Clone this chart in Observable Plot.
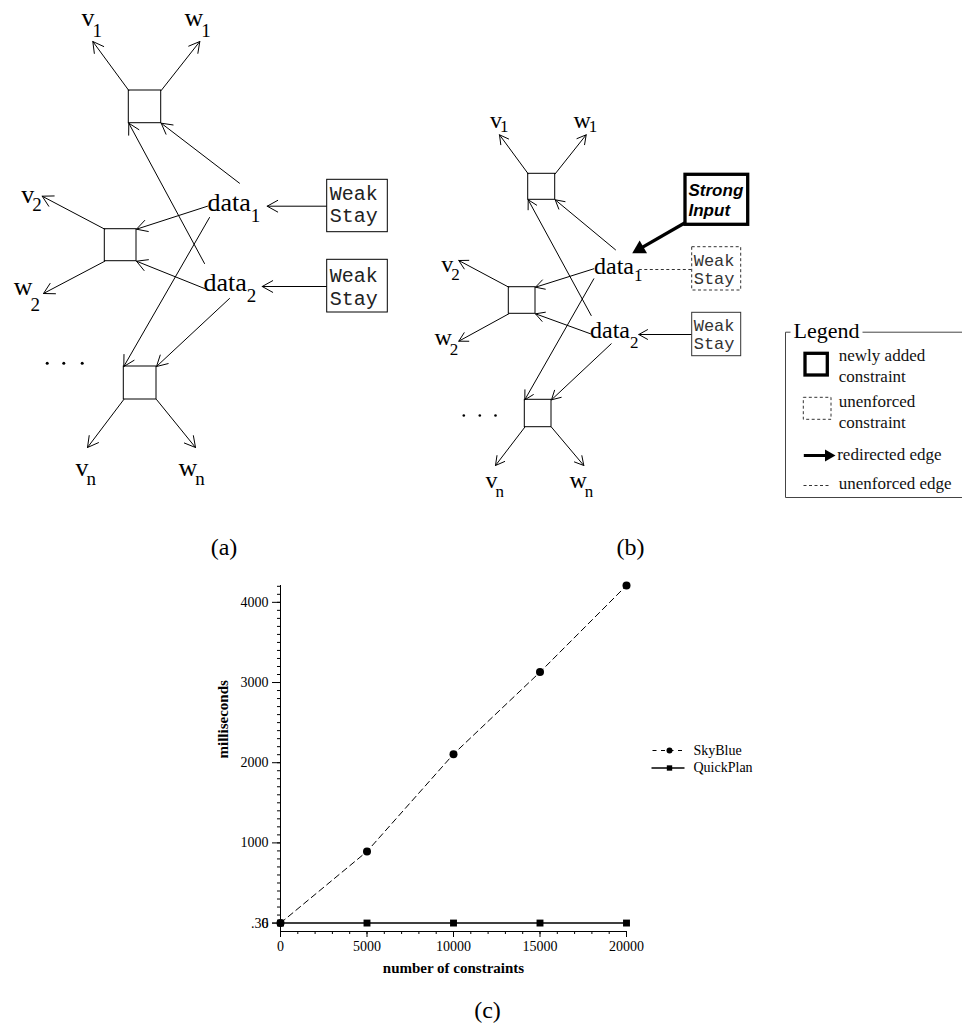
<!DOCTYPE html>
<html><head><meta charset="utf-8">
<script src="https://cdn.jsdelivr.net/npm/d3@7"></script>
<script src="https://cdn.jsdelivr.net/npm/@observablehq/plot@0.6"></script>
<style>
html,body{margin:0;padding:0;background:#fff;}
#page{position:relative;width:962px;height:1030px;overflow:hidden;background:#fff;}
#page > svg{position:absolute;left:0;}
</style></head><body><div id="page"></div>
<script>
// ================= chart (c) data =================
const constraints = [0, 5000, 10000, 15000, 20000];
const skyBlue = [0.36, 893, 2107, 3130, 4210];
const quickPlan = [0.36, 0.4, 0.4, 0.4, 0.4];
const seriesNames = ["SkyBlue", "QuickPlan"];
const yTickValues = [0, 0.36, 1000, 2000, 3000, 4000];
const xTickValues = [0, 5000, 10000, 15000, 20000];
const yAxisTitle = "milliseconds";
const xAxisTitle = "number of constraints";
const panelLabels = ["(a)", "(b)", "(c)"];

// ================= diagram (a) / (b) data (drawing coordinates) =================
const nodeBoxesA = [[128.3, 90, 160.7, 122.7], [104.3, 228.7, 136, 260.7], [123.3, 366, 156, 399]];
const nodeBoxesB = [[527.7, 173.3, 554.7, 199.3], [508.3, 286.7, 535, 313.3], [524.3, 399.3, 551, 426.7]];
const edgesA = [
  [128.3, 90, 92.3, 41], [160.7, 90, 199.3, 41], [239, 182.7, 160.7, 122.7], [204, 263, 128.3, 122.7],
  [207, 205.7, 136, 228.7], [209, 217, 123.3, 366], [104.3, 228.7, 41.7, 195.7], [104.3, 260.7, 43, 293],
  [204, 288, 136, 260.7], [229, 298, 156, 366], [123.3, 399, 87, 447], [156, 399, 195, 447],
  [326.7, 205.7, 266.7, 205.7], [326.7, 286, 261.7, 286]
];
const edgesB = [
  [527.7, 173.3, 499, 134.3], [554.7, 173.3, 585.7, 134.3], [615, 249.3, 554.7, 199.3], [590.7, 315, 527.7, 199.3],
  [593.3, 268.3, 535, 286.7], [593.3, 278.3, 524.3, 399.3], [508.3, 286.7, 458.3, 260], [508.3, 313.3, 458.3, 340.7],
  [590, 333.3, 535, 313.3], [610.7, 343.3, 551, 399.3], [524.3, 426.7, 495, 465], [551, 426.7, 583.3, 465],
  [691.7, 334, 638.3, 334]
];
const unenforcedEdgesB = [[638.3, 269, 691.7, 269]];
// variable labels: name, subscript, x, baseline, subscript baseline
const labelsA = [["v", "1", 81, 25, 36.7], ["w", "1", 184, 25, 36.7], ["v", "2", 20.7, 202, 210.7], ["w", "2", 13.3, 294, 310],
  ["data", "1", 207, 210, 221.7], ["data", "2", 203, 290, 301.7], ["v", "n", 75, 475, 484], ["w", "n", 178, 475, 484]];
const labelsB = [["v", "1", 489.5, 127, 131.5], ["w", "1", 573, 127, 131.5], ["v", "2", 440.7, 271.7, 279.3], ["w", "2", 434, 344, 354],
  ["data", "1", 593.5, 273.3, 280.7], ["data", "2", 589.5, 337.3, 347.7], ["v", "n", 485, 487.3, 496.7], ["w", "n", 569, 487.3, 496.7]];
const ellipsisA = [[46.7, 362.7], [63.3, 362.7], [81.7, 362.7]];
const ellipsisB = [[463.3, 415], [479.3, 415], [495, 415]];
// weak stay constraints: box, first/second baseline, dashed?
const stayBoxesA = [[326.7, 179.3, 387.3, 231.7, 199, 221.7], [326.7, 259.3, 387.3, 312, 281.7, 304]];
const stayBoxesB = [[691.7, 246.7, 740.7, 290, 265, 283, true], [691.7, 312.3, 740.7, 355.7, 330, 348.3, false]];
const stayText = ["Weak", "Stay"];
const strongBox = [685, 174.3, 747.7, 224.3];
const strongText = [["Strong", 688, 195], ["Input", 688, 215]];
const strongArrow = [685, 222, 631.7, 252.7];
// legend of (b)
const legendTitle = ["Legend", 793, 337.3];
const legendFrame = [[785, 331.7, 790, 331.7], [862, 331.7, 962, 331.7], [785, 331.7, 785, 497], [785, 497, 962, 497]];
const legendThickBox = [805, 353.3, 827.3, 375];
const legendDashedBox = [803.3, 397.3, 831, 419.3];
const legendArrow = [803.3, 455, 835, 455];
const legendDashedEdge = [[803, 485, 830, 485]];
const legendTexts = [["newly added", 838.3, 360], ["constraint", 838.3, 381.7], ["unenforced", 838.3, 406], ["constraint", 838.3, 427.3], ["redirected edge", 836.7, 459.3], ["unenforced edge", 838.3, 488.3]];
// legend of (c) (page coordinates)
const chartLegendX = 650;
const chartLegendY = [750, 767.5];

// ================= helpers =================
const serif = "Liberation Serif, Times New Roman, serif";
const mono = "Liberation Mono, Courier New, monospace";
const sans = "Liberation Sans, Arial, sans-serif";
const ctx = document.createElement("canvas").getContext("2d");
const textWidth = (t, size) => { ctx.font = `${size}px "Liberation Serif"`; return ctx.measureText(t).width; };
const seg = a => a.map(([x1, y1, x2, y2]) => ({x1, y1, x2, y2}));
const box = a => a.map(([x1, y1, x2, y2]) => ({x1, y1, x2, y2}));
const lbl = a => a.map(([t, x, y]) => ({t, x, y}));
const pts = a => a.map(([x, y]) => ({x, y}));
const mains = a => a.map(([t, , x, y]) => ({t, x, y}));
const subs = (a, size) => a.map(([t, s, x, , y]) => ({t: s, x: x + textWidth(t, size) + (t.length > 1 ? 0 : -2), y}));
function thick(s, r) {
  const [sx, sy, tx, ty] = s;
  const dx = tx - sx, dy = ty - sy, L = Math.hypot(dx, dy), ux = dx / L, uy = dy / L;
  const k = 0.7776 * r;
  const cx = tx - ux * 2 * k, cy = ty - uy * 2 * k;
  return {x1: sx, y1: sy, x2: cx, y2: cy, cx, cy, rot: Math.atan2(ux, -uy) * 180 / Math.PI};
}

// ================= chart (c) =================
const skyRows = constraints.map((c, i) => ({x: c, y: skyBlue[i], s: seriesNames[0]}));
const qpRows = constraints.map((c, i) => ({x: c, y: quickPlan[i], s: seriesNames[1]}));
const yMin = -105, yMax = 4210;
const chart = Plot.plot({
  width: 962, height: 465,
  marginLeft: 280, marginRight: 336, marginTop: 20, marginBottom: 99,
  x: {domain: [0, 20000]},
  y: {domain: [yMin, yMax]},
  style: {fontFamily: serif, fontSize: "14px", color: "black", background: "transparent"},
  marks: [
    Plot.axisY({ticks: d3.range(0, 4201, 100), tickSize: 3, tickFormat: () => "", label: null}),
    Plot.axisY({ticks: yTickValues, tickSize: 8, tickPadding: 4, tickFormat: d => d === 0.36 ? ".36" : String(d), label: null, fontSize: 14}),
    Plot.axisX({ticks: d3.range(0, 20001, 1000), tickSize: 3, tickFormat: () => "", label: null}),
    Plot.axisX({ticks: xTickValues, tickSize: 6, tickPadding: 4, tickFormat: d => String(d), label: null, fontSize: 14}),
    Plot.ruleX([0], {y1: yMin, y2: yMax, strokeWidth: 1}),
    Plot.ruleY([yMin], {x1: 0, x2: 20000, strokeWidth: 1}),
    Plot.line(skyRows, {x: "x", y: "y", stroke: "black", strokeWidth: 1, strokeDasharray: "6,4"}),
    Plot.dot(skyRows, {x: "x", y: "y", r: 4, fill: "black", symbol: "circle"}),
    Plot.line(qpRows, {x: "x", y: "y", stroke: "black", strokeWidth: 1.4}),
    Plot.dot(qpRows, {x: "x", y: "y", r: 3.9, fill: "black", symbol: "square"}),
    Plot.text([yAxisTitle], {frameAnchor: "left", dx: -57.5, rotate: -90, fontWeight: "bold", fontSize: 15, lineAnchor: "middle"}),
    Plot.text([xAxisTitle], {frameAnchor: "bottom", dy: 37, fontWeight: "bold", fontSize: 15, lineAnchor: "middle"}),
    Plot.text([panelLabels[2]], {frameAnchor: "bottom", dx: 34, dy: 86.4, fontSize: 24, lineAnchor: "bottom"})
  ]
});
chart.style.top = "565px";
document.getElementById("page").appendChild(chart);

// ================= diagrams (a), (b) and legends =================
const arrowStrongB = thick(strongArrow, 5.5);
const arrowLegend = thick(legendArrow, 4.5);
const stayA = stayBoxesA.map(([x1, y1, x2, y2, l1, l2]) => ({x1, y1, x2, y2, l1, l2}));
const stayB = stayBoxesB.map(([x1, y1, x2, y2, l1, l2, dashed]) => ({x1, y1, x2, y2, l1, l2, dashed}));
const stayLines = (rows, dx) => rows.flatMap(r => [{t: stayText[0], x: r.x1 + dx, y: r.l1}, {t: stayText[1], x: r.x1 + dx, y: r.l2}]);
const legendC = [
  {name: seriesNames[0], y: chartLegendY[0], symbol: "circle", r: 3.6},
  {name: seriesNames[1], y: chartLegendY[1], symbol: "square", r: 3.7}
];
const L0 = chartLegendX;

const overlay = Plot.plot({
  width: 962, height: 1030,
  x: {type: "identity", axis: null},
  y: {type: "identity", axis: null},
  style: {background: "transparent", color: "black", fontFamily: serif},
  marks: [
    // ---- (a)
    Plot.rect(box(nodeBoxesA), {x1: "x1", y1: "y1", x2: "x2", y2: "y2", fill: "none", stroke: "black", strokeWidth: 1}),
    Plot.arrow(seg(edgesA), {x1: "x1", y1: "y1", x2: "x2", y2: "y2", stroke: "black", strokeWidth: 1, headLength: 18, headAngle: 58}),
    Plot.rect(stayA, {x1: "x1", y1: "y1", x2: "x2", y2: "y2", fill: "white", stroke: "black", strokeWidth: 1}),
    Plot.text(stayLines(stayA, 2.5), {x: "x", y: "y", text: "t", textAnchor: "start", lineAnchor: "bottom", fontFamily: mono, fontSize: 20, fill: "#222"}),
    Plot.text(mains(labelsA), {x: "x", y: "y", text: "t", textAnchor: "start", lineAnchor: "bottom", fontSize: 26}),
    Plot.text(subs(labelsA, 26), {x: "x", y: "y", text: "t", textAnchor: "start", lineAnchor: "bottom", fontSize: 19}),
    Plot.dot(pts(ellipsisA), {x: "x", y: "y", r: 1.5, fill: "black"}),
    // ---- (b)
    Plot.rect(box(nodeBoxesB), {x1: "x1", y1: "y1", x2: "x2", y2: "y2", fill: "none", stroke: "black", strokeWidth: 1}),
    Plot.arrow(seg(edgesB), {x1: "x1", y1: "y1", x2: "x2", y2: "y2", stroke: "black", strokeWidth: 1, headLength: 15, headAngle: 58}),
    Plot.link(seg(unenforcedEdgesB), {x1: "x1", y1: "y1", x2: "x2", y2: "y2", stroke: "#333", strokeWidth: 1, strokeDasharray: "3,2.5"}),
    Plot.rect(stayB.filter(d => d.dashed), {x1: "x1", y1: "y1", x2: "x2", y2: "y2", fill: "white", stroke: "#333", strokeWidth: 1, strokeDasharray: "3,2.5"}),
    Plot.rect(stayB.filter(d => !d.dashed), {x1: "x1", y1: "y1", x2: "x2", y2: "y2", fill: "white", stroke: "#333", strokeWidth: 1}),
    Plot.text(stayLines(stayB, 1.5), {x: "x", y: "y", text: "t", textAnchor: "start", lineAnchor: "bottom", fontFamily: mono, fontSize: 17, fill: "#333"}),
    Plot.text(mains(labelsB), {x: "x", y: "y", text: "t", textAnchor: "start", lineAnchor: "bottom", fontSize: 24}),
    Plot.text(subs(labelsB, 24), {x: "x", y: "y", text: "t", textAnchor: "start", lineAnchor: "bottom", fontSize: 17}),
    Plot.dot(pts(ellipsisB), {x: "x", y: "y", r: 1.3, fill: "black"}),
    Plot.rect(box([strongBox]), {x1: "x1", y1: "y1", x2: "x2", y2: "y2", fill: "white", stroke: "black", strokeWidth: 3.3}),
    Plot.text(lbl(strongText), {x: "x", y: "y", text: "t", textAnchor: "start", lineAnchor: "bottom", fontFamily: sans, fontSize: 17, fontWeight: "bold", fontStyle: "italic"}),
    Plot.link([arrowStrongB], {x1: "x1", y1: "y1", x2: "x2", y2: "y2", stroke: "black", strokeWidth: 3.3}),
    Plot.dot([arrowStrongB], {x: "cx", y: "cy", r: 5.5, symbol: "triangle", fill: "black", stroke: "none", rotate: "rot"}),
    // ---- legend of (b)
    Plot.link(seg(legendFrame), {x1: "x1", y1: "y1", x2: "x2", y2: "y2", stroke: "#444", strokeWidth: 1}),
    Plot.text(lbl([legendTitle]), {x: "x", y: "y", text: "t", textAnchor: "start", lineAnchor: "bottom", fontSize: 22}),
    Plot.rect(box([legendThickBox]), {x1: "x1", y1: "y1", x2: "x2", y2: "y2", fill: "none", stroke: "black", strokeWidth: 3.3}),
    Plot.rect(box([legendDashedBox]), {x1: "x1", y1: "y1", x2: "x2", y2: "y2", fill: "none", stroke: "#333", strokeWidth: 1, strokeDasharray: "3,2.5"}),
    Plot.link([arrowLegend], {x1: "x1", y1: "y1", x2: "x2", y2: "y2", stroke: "black", strokeWidth: 3}),
    Plot.dot([arrowLegend], {x: "cx", y: "cy", r: 4.5, symbol: "triangle", fill: "black", stroke: "none", rotate: "rot"}),
    Plot.link(seg(legendDashedEdge), {x1: "x1", y1: "y1", x2: "x2", y2: "y2", stroke: "#333", strokeWidth: 1, strokeDasharray: "3,2.5"}),
    Plot.text(lbl(legendTexts), {x: "x", y: "y", text: "t", textAnchor: "start", lineAnchor: "bottom", fontSize: 17, fill: "#111"}),
    // ---- panel labels
    Plot.text([{t: panelLabels[0], x: 223.5, y: 554}, {t: panelLabels[1], x: 630, y: 554}], {x: "x", y: "y", text: "t", textAnchor: "middle", lineAnchor: "bottom", fontSize: 24}),
    // ---- legend of (c)
    Plot.link(legendC.slice(0, 1), {x1: L0 + 2, x2: L0 + 33, y1: "y", y2: "y", stroke: "black", strokeWidth: 1, strokeDasharray: "4,4.5"}),
    Plot.link(legendC.slice(1), {x1: L0 + 1, x2: L0 + 34, y1: "y", y2: "y", stroke: "black", strokeWidth: 1.4}),
    Plot.dot(legendC, {x: L0 + 19, y: "y", r: "r", symbol: "symbol", fill: "black"}),
    Plot.text(legendC, {x: L0 + 43, y: "y", text: "name", textAnchor: "start", lineAnchor: "middle", fontSize: 14})
  ]
});
overlay.style.top = "0px";
document.getElementById("page").appendChild(overlay);
</script>
</body></html>
